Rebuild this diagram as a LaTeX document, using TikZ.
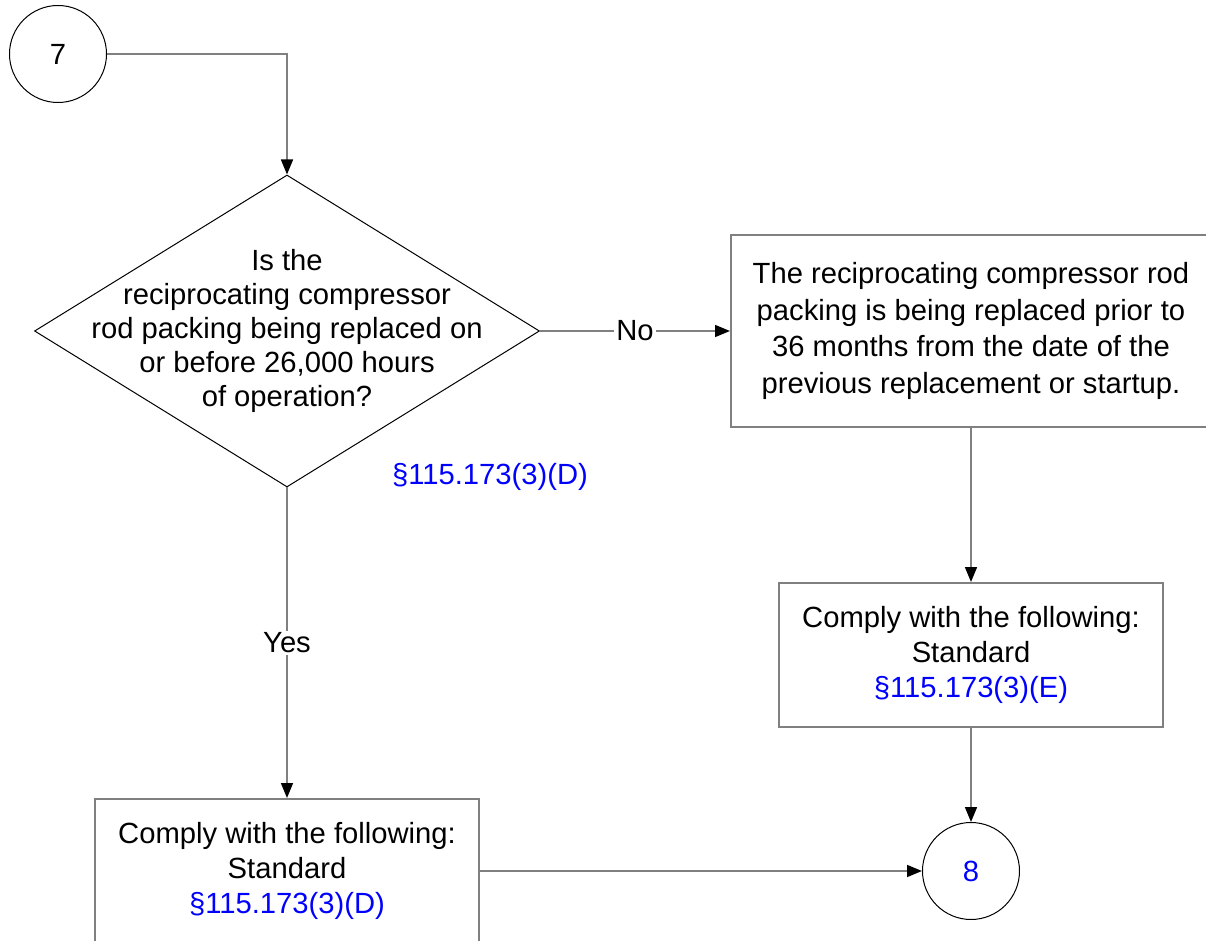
\documentclass[tikz,border=0pt]{standalone}
\usepackage{fontspec}
\setmainfont{Liberation Sans}
\usetikzlibrary{arrows.meta,positioning,shapes.geometric}
\definecolor{lGray}{gray}{0.5}
\definecolor{lBlue}{RGB}{0,0,255}
\tikzset{
    circ/.style={circle, draw, line width=0.5pt, inner sep=0pt, minimum size=48.5pt},
    dec/.style={diamond, draw, line width=0.5pt, inner sep=0pt, minimum width=252.5pt, minimum height=156pt},
    box/.style={rectangle, draw=lGray, line width=1pt, align=center, inner sep=2pt},
    conn/.style={draw=lGray, line width=0.8pt, -{Triangle[length=7.5pt,width=6pt,fill=black,color=black]}},
    lbl/.style={fill=white, inner sep=1pt},
    ref/.style={text=lBlue}
}

\begin{document}
\begin{tikzpicture}[x=0.5pt,y=-0.5pt,font=\fontsize{14.6}{17.5}\selectfont]
\useasboundingbox (0,0) rectangle (1206,941);
\node[circ] (c7) at (58,54) {7};
\node[dec] (q) at (287,331) {};
\node[align=center,font=\fontsize{14.6}{17.1}\selectfont] (qtxt) at (q) {Is the\\reciprocating compressor\\rod packing being replaced on\\or before 26,000 hours\\of operation?};
\node[ref] (qref) at (490,477) {\S115.173(3)(D)};
\node[box, minimum width=240pt, minimum height=96pt, font=\fontsize{14.6}{18.3}\selectfont] (bx) at (971,331) {The reciprocating compressor rod\\packing is being replaced prior to\\36 months from the date of the\\previous replacement or startup.};
\node[box, minimum width=192pt, minimum height=72pt] (c2) at (971,655) {Comply with the following:\\Standard\\\textcolor{lBlue}{\S115.173(3)(E)}};
\node[box, minimum width=192pt, minimum height=72pt] (c1) at (287,871) {Comply with the following:\\Standard\\\textcolor{lBlue}{\S115.173(3)(D)}};
\node[circ, ref] (c8) at (971,871) {8};

\draw[conn] (c7.east) -| (q.north);
\draw[conn] (q.east) -- node[lbl] {No} (bx.west);
\draw[conn] (q.south) -- node[lbl] {Yes} (c1.north);
\draw[conn] (bx.south) -- (c2.north);
\draw[conn] (c2.south) -- (c8.north);
\draw[conn] (c1.east) -- (c8.west);
\end{tikzpicture}
\end{document}
